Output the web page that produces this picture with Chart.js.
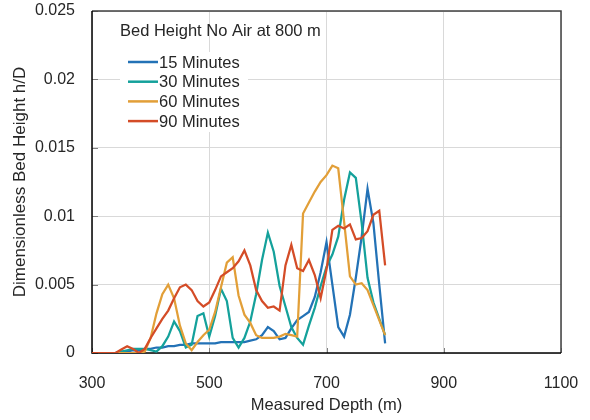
<!DOCTYPE html>
<html>
<head>
<meta charset="utf-8">
<script src="https://cdn.jsdelivr.net/npm/chart.js@4.4.1/dist/chart.umd.min.js"></script>
<style>
  html, body { margin: 0; padding: 0; background: #fff; }
  #wrap { width: 590px; height: 420px; }
</style>
</head>
<body>
<div id="wrap"><canvas id="bed-height-chart"></canvas></div>
<script>
// Measured depth (m) of each sample
const depths = [
  300, 310, 320, 330, 340, 350, 360, 370, 380, 390,
  400, 410, 420, 430, 440, 450, 460, 470, 480, 490,
  500, 510, 520, 530, 540, 550, 560, 570, 580, 590,
  600, 610, 620, 630, 640, 650, 660, 670, 680, 690,
  700, 710, 720, 730, 740, 750, 760, 770, 780, 790,
  800
];

// Dimensionless bed height h/D after each flow time
const min15 = [
  0, 0, 0, 0, 0, 0.0001, 0.0001, 0.0002, 0.0002, 0.0003,
  0.0003, 0.0004, 0.0004, 0.0005, 0.0005, 0.0006, 0.0006, 0.0007, 0.0007, 0.0007,
  0.0007, 0.0007, 0.0008, 0.0008, 0.0008, 0.0008, 0.0008, 0.0009, 0.001, 0.0013,
  0.0019, 0.0016, 0.001, 0.0011, 0.0018, 0.0024, 0.0027, 0.003, 0.0041, 0.0059,
  0.0081, 0.005, 0.0019, 0.0012, 0.0028, 0.0055, 0.0085, 0.012, 0.0095, 0.005,
  0.0007
];
const min30 = [
  0, 0, 0, 0, 0, 0.0001, 0.0002, 0.0003, 0.0003, 0.0003,
  0.0002, 0.0001, 0.0005, 0.0012, 0.0023, 0.0016, 0.0004, 0.0006, 0.0027, 0.0029,
  0.0012, 0.0027, 0.0047, 0.0038, 0.0011, 0.0004, 0.0011, 0.0023, 0.0043, 0.0068,
  0.0088, 0.0074, 0.0049, 0.0034, 0.0019, 0.0011, 0.0006, 0.002, 0.0033, 0.0049,
  0.0063, 0.0072, 0.0085, 0.0112, 0.0132, 0.0128, 0.0095, 0.0055, 0.0037, 0.0025,
  0.0013
];
const min60 = [
  0, 0, 0, 0, 0, 0, 0, 0, 0, 0.0001,
  0.0011, 0.0029, 0.0043, 0.005, 0.004, 0.002, 0.0007, 0.0002, 0.0008, 0.0013,
  0.0017, 0.003, 0.0048, 0.0066, 0.007, 0.0042, 0.0028, 0.0022, 0.0013, 0.0011,
  0.0011, 0.0011, 0.0012, 0.0014, 0.0013, 0.0012, 0.0102, 0.011, 0.0118, 0.0125,
  0.013, 0.0137, 0.0135, 0.0096, 0.0056, 0.005, 0.0051, 0.0046, 0.0035, 0.0024,
  0.0013
];
const min90 = [
  0, 0, 0, 0, 0, 0.00025, 0.0005, 0.0003, 0, 0.0003,
  0.0011, 0.0018, 0.0025, 0.0031, 0.004, 0.0048, 0.005, 0.0046, 0.0038, 0.0034,
  0.0037, 0.0046, 0.0056, 0.0059, 0.0062, 0.0067, 0.0075, 0.0064, 0.0046, 0.0038,
  0.0033, 0.0034, 0.0031, 0.0064, 0.0079, 0.0062, 0.006, 0.0068, 0.0057, 0.004,
  0.0061, 0.009, 0.0093, 0.0091, 0.0094, 0.0083, 0.0084, 0.0089, 0.0101, 0.0104,
  0.0064
];

const seriesLabels = ['15 Minutes', '30 Minutes', '60 Minutes', '90 Minutes'];
const seriesColors = ['#2372b6', '#14a19b', '#e29f38', '#d44c27'];
const legendTitle = 'Bed Height No Air at 800 m';
const xTickLabels = ['300', '500', '700', '900', '1100'];
const yTickLabels = ['0', '0.005', '0.01', '0.015', '0.02', '0.025'];

const textColor = '#262626';
const fontFamily = '"Liberation Sans", Arial, sans-serif';

const toPoints = (values) => values.map((v, i) => ({ x: depths[i], y: v }));

// Plot frame plus the short inward tick marks
const plotFrame = {
    id: 'plotFrame',
    beforeDatasetsDraw(chart) {
        const { ctx, chartArea: a, scales } = chart;
        ctx.save();
        ctx.strokeStyle = '#7f7f7f';
        ctx.lineWidth = 1;
        scales.x.ticks.forEach(t => {
            const px = Math.round(scales.x.getPixelForValue(t.value)) + 0.5;
            ctx.beginPath();
            ctx.moveTo(px, a.bottom);
            ctx.lineTo(px, a.bottom - 5);
            ctx.stroke();
        });
        scales.y.ticks.forEach(t => {
            const py = Math.round(scales.y.getPixelForValue(t.value)) + 0.5;
            ctx.beginPath();
            ctx.moveTo(a.left, py);
            ctx.lineTo(a.left + 6, py);
            ctx.stroke();
        });
        ctx.lineWidth = 1.5;
        ctx.strokeStyle = '#404040';
        ctx.beginPath();
        ctx.moveTo(a.left, a.top);
        ctx.lineTo(a.right, a.top);
        ctx.lineTo(a.right, a.bottom);
        ctx.stroke();
        ctx.strokeStyle = '#000';
        ctx.beginPath();
        ctx.moveTo(a.left, a.top);
        ctx.lineTo(a.left, a.bottom);
        ctx.lineTo(a.right, a.bottom);
        ctx.stroke();
        ctx.restore();
    }
};

// Legend sits inside the plot, under its own title
const insideLegend = {
    id: 'insideLegend',
    afterDraw(chart) {
        const { ctx, chartArea: a } = chart;
        ctx.save();
        ctx.fillStyle = '#fff';
        ctx.fillRect(a.left + 28, a.top + 41, 128, 80);
        ctx.font = '16.5px ' + fontFamily;
        ctx.textBaseline = 'middle';
        ctx.fillStyle = textColor;
        ctx.fillText(legendTitle, a.left + 28, a.top + 20);
        chart.data.datasets.forEach((ds, i) => {
            const y = a.top + 51 + i * 19.7;
            ctx.strokeStyle = ds.borderColor;
            ctx.lineWidth = 2.5;
            ctx.beginPath();
            ctx.moveTo(a.left + 36, y);
            ctx.lineTo(a.left + 66, y);
            ctx.stroke();
            ctx.fillStyle = textColor;
            ctx.fillText(ds.label, a.left + 67, y + 1);
        });
        ctx.restore();
    }
};

const seriesValues = [min15, min30, min60, min90];

new Chart(document.getElementById('bed-height-chart'), {
    type: 'line',
    data: {
        datasets: seriesValues.map((values, i) => ({
            label: seriesLabels[i],
            data: toPoints(values),
            borderColor: seriesColors[i],
            borderWidth: 2.25,
            pointRadius: 0,
            tension: 0,
            fill: false,
            // later series are painted on top
            order: seriesValues.length - i
        }))
    },
    options: {
        responsive: true,
        maintainAspectRatio: false,
        animation: false,
        layout: { padding: { left: 0, right: 29, top: 11, bottom: 0 } },
        plugins: {
            legend: { display: false },
            tooltip: { enabled: false }
        },
        scales: {
            x: {
                type: 'linear',
                min: 300,
                max: 1100,
                afterBuildTicks: (scale) => {
                    scale.ticks = xTickLabels.map(v => ({ value: Number(v) }));
                },
                ticks: {
                    color: textColor,
                    font: { family: fontFamily, size: 16 },
                    padding: 21,
                    maxRotation: 0,
                    callback: (v) => String(v)
                },
                grid: { color: '#d9d9d9', lineWidth: 1, drawTicks: false },
                border: { display: false },
                title: {
                    display: true,
                    text: 'Measured Depth (m)',
                    color: textColor,
                    font: { family: fontFamily, size: 16.5 },
                    padding: { top: 5, bottom: 5 }
                },
                afterFit: (scale) => {
                    scale.height = 67;
                    scale.paddingLeft = 0;
                    scale.paddingRight = 0;
                }
            },
            y: {
                min: 0,
                max: 0.025,
                ticks: {
                    stepSize: 0.005,
                    color: textColor,
                    font: { family: fontFamily, size: 16 },
                    padding: 17,
                    callback: (v, i) => yTickLabels[i]
                },
                grid: { color: '#d9d9d9', lineWidth: 1, drawTicks: false },
                border: { display: false },
                title: {
                    display: true,
                    text: 'Dimensionless Bed Height h/D',
                    color: textColor,
                    font: { family: fontFamily, size: 17 },
                    padding: { top: 10, bottom: 10 }
                },
                afterFit: (scale) => {
                    scale.width = 92;
                    scale.paddingTop = 0;
                    scale.paddingBottom = 0;
                }
            }
        }
    },
    plugins: [plotFrame, insideLegend]
});
</script>
</body>
</html>
